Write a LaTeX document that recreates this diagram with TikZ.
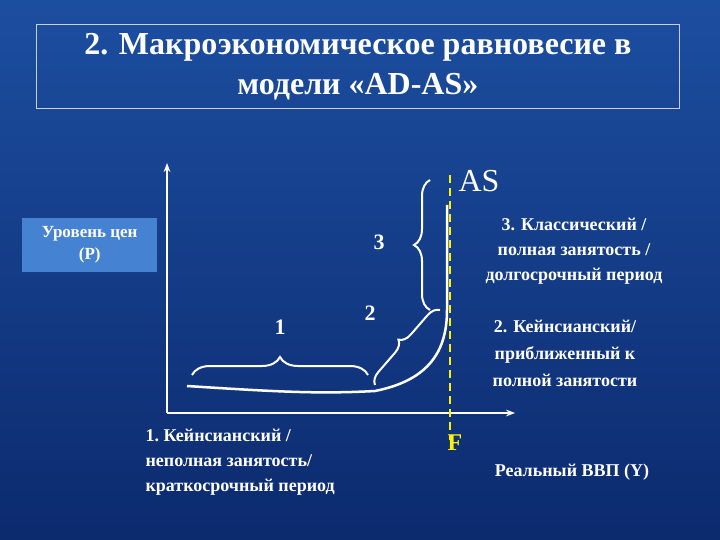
\documentclass[tikz,border=0pt]{standalone}
\usepackage{fontspec}
\setmainfont{Liberation Serif}
\usetikzlibrary{decorations.pathreplacing,arrows.meta}
\definecolor{bgtop}{RGB}{28,78,160}
\definecolor{bgbot}{RGB}{12,42,110}
\definecolor{lbl}{RGB}{70,130,210}
\begin{document}
\begin{tikzpicture}[x=1pt,y=-1pt,
  txt/.style={text=white,align=center},
  brace/.style={draw=white,line width=2pt,decorate,decoration={brace,amplitude=12pt}},
  curve/.style={draw=white,line width=2.5pt}]
\shade[top color=bgtop,bottom color=bgbot] (0,0) rectangle (720,540);
\useasboundingbox (0,0) rectangle (720,540);
\node[draw=white!80!blue,line width=0.8pt,minimum width=643pt,minimum height=84pt,txt,font=\bfseries\fontsize{32}{40}\selectfont,anchor=north west] (title) at (36,24) {2. Макроэкономическое равновесие в\\модели «AD-AS»};
\node[fill=lbl,minimum width=135pt,minimum height=54pt,anchor=north west,txt,font=\bfseries\fontsize{17}{22}\selectfont] (plabel) at (22,218) {Уровень цен\\(P)};
\coordinate (O) at (167,413);
\coordinate (ytop) at (167,163);
\coordinate (xend) at (515,413);
\draw[white,line width=1.5pt,-{Stealth[length=9pt]}] (O) -- (ytop);
\draw[white,line width=1.5pt,-{Stealth[length=9pt]}] (O) -- (xend);
\coordinate (ftop) at (450,175);
\coordinate (fbot) at (450,440);
\draw[yellow,line width=1.5pt,dash pattern=on 8pt off 5pt] (ftop) -- (fbot);
\coordinate (c0) at (187,386);
\coordinate (c1) at (375,391);
\coordinate (c2) at (447,310);
\coordinate (c3) at (447,205);
\draw[curve] (c0) .. controls (280,392) and (320,394) .. (c1) .. controls (430,380) and (447,350) .. (c2) -- (c3);
\coordinate (b1a) at (192,375); \coordinate (b1b) at (368,375);
\draw[brace,decoration={amplitude=18pt}] (b1a) -- (b1b);
\coordinate (b2a) at (375,385); \coordinate (b2b) at (440,310);
\draw[brace] (b2a) -- (b2b);
\coordinate (b3a) at (440,310); \coordinate (b3b) at (440,180);
\draw[brace,decoration={amplitude=16pt}] ([xshift=-10pt]b3a) -- ([xshift=-10pt]b3b);
\node[txt,font=\bfseries\fontsize{22}{24}\selectfont] (n1) at (280,327) {1};
\node[txt,font=\bfseries\fontsize{22}{24}\selectfont] (n2) at (370,313) {2};
\node[txt,font=\bfseries\fontsize{22}{24}\selectfont] (n3) at (379,242) {3};
\node[txt,font=\fontsize{32}{34}\selectfont,anchor=west] (as) at (455,181) {AS};
\node[txt,text=yellow,font=\bfseries\fontsize{24}{26}\selectfont] (F) at (455,443) {F};
\node[txt,font=\bfseries\fontsize{18}{25}\selectfont] (t3) at (574,251) {3. Классический /\\полная занятость /\\долгосрочный период};
\node[txt,font=\bfseries\fontsize{18}{27}\selectfont] (t2) at (565,353) {2. Кейнсианский/\\приближенный к\\полной занятости};
\node[txt,font=\bfseries\fontsize{18}{25}\selectfont,align=left,anchor=north west] (t1) at (142,426) {1.\ Кейнсианский /\\неполная занятость/\\краткосрочный период};
\node[txt,font=\bfseries\fontsize{18}{20}\selectfont] (ty) at (572,472) {Реальный ВВП (Y)};
\end{tikzpicture}
\end{document}
